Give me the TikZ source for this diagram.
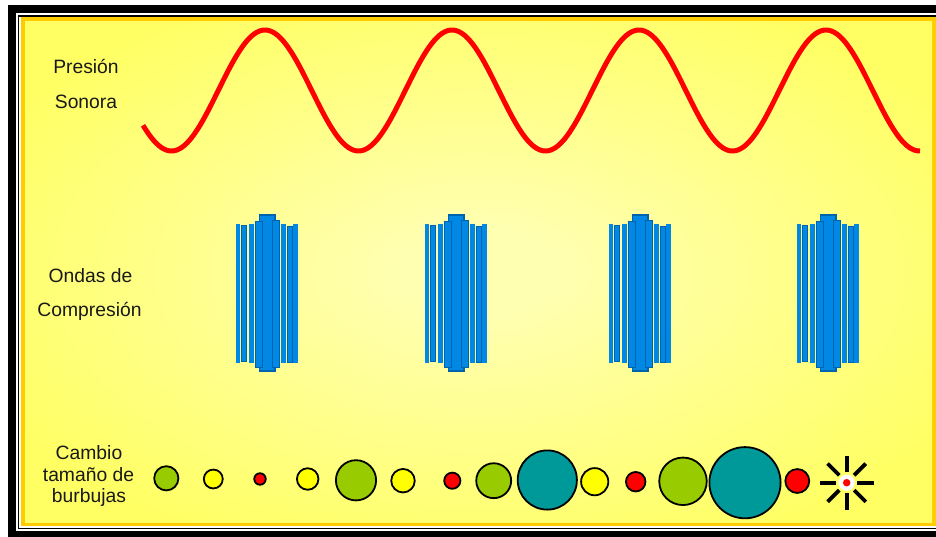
\documentclass[tikz,border=0pt]{standalone}
\usepackage{fontspec}
\setmainfont{Liberation Sans}
\definecolor{frameorange}{RGB}{255,204,0}
\definecolor{glowin}{RGB}{255,255,178}
\definecolor{glowout}{RGB}{255,255,100}
\definecolor{barblue}{RGB}{0,136,228}
\definecolor{bardark}{RGB}{0,100,172}
\definecolor{bubgreen}{RGB}{153,204,0}
\definecolor{bubyellow}{RGB}{255,255,0}
\definecolor{bubred}{RGB}{255,0,0}
\definecolor{bubteal}{RGB}{0,153,153}
\pgfdeclareradialshading{softglow}{\pgfpoint{0bp}{0bp}}{color(0bp)=(glowin); color(4bp)=(glowin); color(30bp)=(glowout); color(50bp)=(glowout)}
\begin{document}
\begin{tikzpicture}[x=1pt,y=-1pt,
  lbl/.style={font=\fontsize{19.3}{23}\selectfont, text=black!90, anchor=base, inner sep=0pt},
  bubble/.style={circle, draw=black, line width=1.8pt, inner sep=0pt},
  wave/.style={draw=red, line width=5pt, line join=round},
  lightbar/.style={fill=barblue},
  darkbar/.style={fill=barblue, draw=bardark, line width=1pt},
  ray/.style={draw=black, line width=3.8pt}]
\useasboundingbox (0,0) rectangle (936,536);
\clip (0,0) rectangle (936,536);
\fill[white] (0,0) rectangle (936,536);
% double black frame, orange border and glowing yellow panel
\fill[black] (8,5) rectangle (950,545);
\fill[white] (16,13) rectangle (941,531);
\draw[black, line width=1.5pt] (18.25,15.75) rectangle (938.75,528.5);
\fill[frameorange] (21,17) rectangle (936,526);
\shade[shading=softglow] (25,21) rectangle (932,522);

% row labels
\node[lbl] (t1) at (86,73) {Presión};
\node[lbl] (t2) at (86,108) {Sonora};
\node[lbl] (t3) at (90.5,282) {Ondas de};
\node[lbl] (t4) at (89.5,316) {Compresión};
\node[lbl] (t5) at (89,459) {Cambio};
\node[lbl] (t6) at (88.5,481) {tamaño de};
\node[lbl] (t7) at (89,502) {burbujas};

% sound pressure wave
\draw[wave] plot[domain=143:920, samples=300] (\x, {90.5 - 60.5*cos((\x-265)/187*360)});

% compression fronts
\foreach \cx in {267,456,640,828} {
  \filldraw[darkbar, line width=1.6pt] (\cx-7.5,214.8) rectangle (\cx+8.2,371.2);
  \filldraw[lightbar, draw=bardark, line width=0.6pt] (\cx-11.8,221) rectangle (\cx-5.2,367);
  \filldraw[lightbar, draw=bardark, line width=0.6pt] (\cx+4.8,220) rectangle (\cx+12.5,367);
  \fill[lightbar] (\cx-31.3,224) rectangle (\cx-26.8,363);
  \filldraw[darkbar] (\cx-25.6,225.5) rectangle (\cx-21,361.5);
  \fill[lightbar] (\cx-18.2,224) rectangle (\cx-13.5,363);
  \fill[lightbar] (\cx+13.5,224) rectangle (\cx+18.5,363);
  \filldraw[darkbar] (\cx+20.4,226) rectangle (\cx+25,362);
  \fill[lightbar] (\cx+26.2,224) rectangle (\cx+30.8,363);
}

% bubbles
\node[bubble, fill=bubgreen,  minimum size=24.2pt] (b1)  at (166.3,478.3) {};
\node[bubble, fill=bubyellow, minimum size=18.9pt] (b2)  at (213.3,479) {};
\node[bubble, fill=bubred,    minimum size=11.5pt] (b3)  at (260,479) {};
\node[bubble, fill=bubyellow, minimum size=21.5pt] (b4)  at (307.7,479) {};
\node[bubble, fill=bubgreen,  minimum size=40.2pt] (b5)  at (356,480.3) {};
\node[bubble, fill=bubyellow, minimum size=23.5pt] (b6)  at (403,480.7) {};
\node[bubble, fill=bubred,    minimum size=16.2pt] (b7)  at (452.3,480.7) {};
\node[bubble, fill=bubgreen,  minimum size=34.9pt] (b8)  at (493.7,480.7) {};
\node[bubble, fill=bubteal,   minimum size=59.2pt] (b9)  at (547.3,480) {};
\node[bubble, fill=bubyellow, minimum size=27.2pt] (b10) at (594.7,481.7) {};
\node[bubble, fill=bubred,    minimum size=19.5pt] (b11) at (635.7,481.7) {};
\node[bubble, fill=bubgreen,  minimum size=47.5pt] (b12) at (683,481.3) {};
\node[bubble, fill=bubteal,   minimum size=71.2pt] (b13) at (745,482.7) {};
\node[bubble, fill=bubred,    minimum size=23.9pt] (b14) at (797.3,481) {};

% bursting bubble
\node[circle, fill=white, minimum size=16pt, inner sep=0pt] (s) at (846.7,482.7) {};
\node[circle, fill=bubred, minimum size=7.5pt, inner sep=0pt] (sdot) at (s) {};
\foreach \a in {0,45,...,315}
  \draw[ray] ([shift={(\a:10.5)}]s.center) -- ([shift={(\a:27)}]s.center);
\end{tikzpicture}
\end{document}
